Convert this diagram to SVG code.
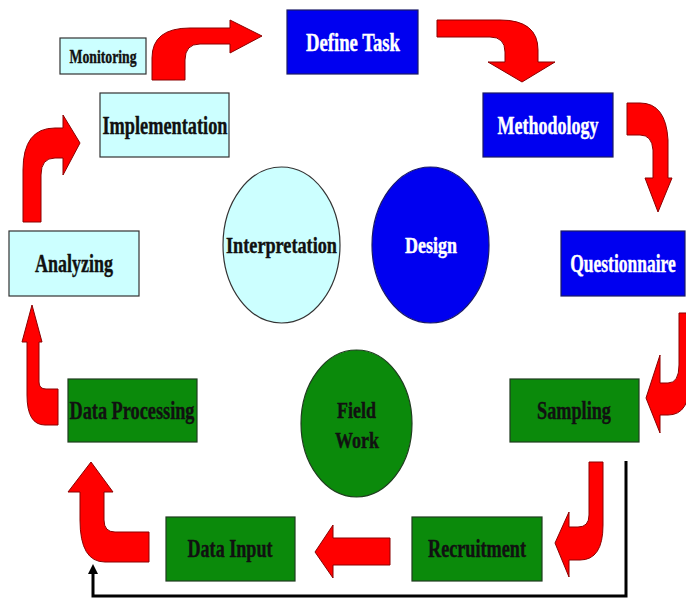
<svg xmlns="http://www.w3.org/2000/svg" width="686" height="600" viewBox="0 0 686 600">
<defs>
<style>
.t{font-family:"Liberation Serif","Times New Roman",serif;font-weight:bold;text-anchor:middle}
.cy{fill:#CCFFFF;stroke:#333;stroke-width:1.2}
.bl{fill:#0000F0;stroke:#1a1a66;stroke-width:1.2}
.gr{fill:#0B8A0B;stroke:#1f3d1f;stroke-width:1.2}
.w{fill:#FFFFFF;stroke:#FFFFFF;stroke-width:0.4}
.k{fill:#111111;stroke:#111111;stroke-width:0.4}
.ar{fill:#FF0000;stroke:#8B0000;stroke-width:1}
.ln{fill:none;stroke:#000;stroke-width:3}
</style>
<marker id="ah" viewBox="0 0 10 10" refX="6" refY="5" markerWidth="10" markerHeight="10" markerUnits="userSpaceOnUse" orient="auto">
<path d="M0,0 L10,5 L0,10 Z" fill="#000"/>
</marker>
</defs>
<rect width="686" height="600" fill="#FFFFFF"/>

<g id="connectors">
<path class="ar" d="M152,80 L152,58 Q152,28 190,28 L230,28 L230,20 L262,36 L230,53 L230,44 L200,44 Q185,44 185,60 L185,80 Z"/>
<path class="ar" d="M437,20 L500,20 Q538,20 538,50 L538,62 L555,62 L522,82 L488,62 L505,62 L505,52 Q505,37 490,37 L437,37 Z"/>
<path class="ar" d="M627,103 L640,103 Q666,103 668,140 L668,178 L672,178 L658,212 L645,178 L653,178 L653,150 Q652,135 640,135 L627,135 Z"/>
<path class="ar" d="M679,313 L690,313 L690,380 Q690,415 668,415 L660,415 L660,433 L646,398 L660,355 L660,383 L668,383 Q679,383 679,365 Z"/>
<path class="ar" d="M589,462 L603,462 L603,525 Q603,560 580,560 L569,560 L569,577 L555,543 L569,512 L569,527 L578,527 Q589,527 589,515 Z"/>
<path class="ar" d="M390,538 L333,538 L333,525 L315,552 L333,578 L333,565 L390,565 Z"/>
<path class="ar" d="M149,532 L149,562 L105,562 Q80,562 80,520 L80,492 L68,492 L91,462 L113,492 L104,492 L104,520 Q104,532 115,532 Z"/>
<path class="ar" d="M58,389 L58,425 L45,425 Q27,425 27,395 L27,342 L22,342 L32,305 L42,342 L39,342 L39,382 Q39,389 46,389 Z"/>
<path class="ar" d="M23,222 L23,170 Q23,128 55,128 L63,128 L63,115 L80,143 L63,175 L63,158 L55,158 Q41,158 41,175 L41,222 Z"/>
<polyline class="ln" points="626,461 626,596 93,596 93,568" marker-end="url(#ah)"/>
</g>

<g id="monitoring"><rect class="cy" x="60" y="38" width="86" height="36"/><text class="t k" x="103" y="63" font-size="19" textLength="67" lengthAdjust="spacingAndGlyphs">Monitoring</text></g>
<g id="implementation"><rect class="cy" x="100" y="93" width="129" height="64"/><text class="t k" x="165" y="134" font-size="25" textLength="125" lengthAdjust="spacingAndGlyphs">Implementation</text></g>
<g id="define-task"><rect class="bl" x="287" y="10" width="131" height="64"/><text class="t w" x="353" y="51" font-size="25" textLength="94" lengthAdjust="spacingAndGlyphs">Define Task</text></g>
<g id="methodology"><rect class="bl" x="483" y="93" width="130" height="64"/><text class="t w" x="548" y="134" font-size="25" textLength="101" lengthAdjust="spacingAndGlyphs">Methodology</text></g>
<g id="questionnaire"><rect class="bl" x="561" y="231" width="124" height="65"/><text class="t w" transform="translate(623,272) scale(0.7,1)" x="0" y="0" font-size="25">Questionnaire</text></g>
<g id="sampling"><rect class="gr" x="510" y="379" width="129" height="63"/><text class="t k" x="574" y="419" font-size="25" textLength="74" lengthAdjust="spacingAndGlyphs">Sampling</text></g>
<g id="recruitment"><rect class="gr" x="412" y="517" width="130" height="64"/><text class="t k" x="477" y="557" font-size="25" textLength="98" lengthAdjust="spacingAndGlyphs">Recruitment</text></g>
<g id="data-input"><rect class="gr" x="166" y="517" width="129" height="64"/><text class="t k" x="230" y="557" font-size="25" textLength="85" lengthAdjust="spacingAndGlyphs">Data Input</text></g>
<g id="data-processing"><rect class="gr" x="68" y="379" width="129" height="63"/><text class="t k" x="132" y="419" font-size="25" textLength="125" lengthAdjust="spacingAndGlyphs">Data Processing</text></g>
<g id="analyzing"><rect class="cy" x="9" y="231" width="130" height="65"/><text class="t k" x="74" y="272" font-size="25" textLength="78" lengthAdjust="spacingAndGlyphs">Analyzing</text></g>

<g id="interpretation"><ellipse class="cy" cx="281.5" cy="245" rx="58.5" ry="78"/><text class="t k" x="281.5" y="253" font-size="23" textLength="111" lengthAdjust="spacingAndGlyphs">Interpretation</text></g>
<g id="design"><ellipse class="bl" cx="430.5" cy="245" rx="58.5" ry="78"/><text class="t w" x="431" y="253" font-size="23" textLength="52" lengthAdjust="spacingAndGlyphs">Design</text></g>
<g id="field-work"><ellipse class="gr" cx="356.5" cy="423.5" rx="55.5" ry="73.5"/><text class="t k" x="356.5" y="418" font-size="23" textLength="39" lengthAdjust="spacingAndGlyphs">Field</text><text class="t k" x="357" y="448" font-size="23" textLength="44" lengthAdjust="spacingAndGlyphs">Work</text></g>
</svg>
